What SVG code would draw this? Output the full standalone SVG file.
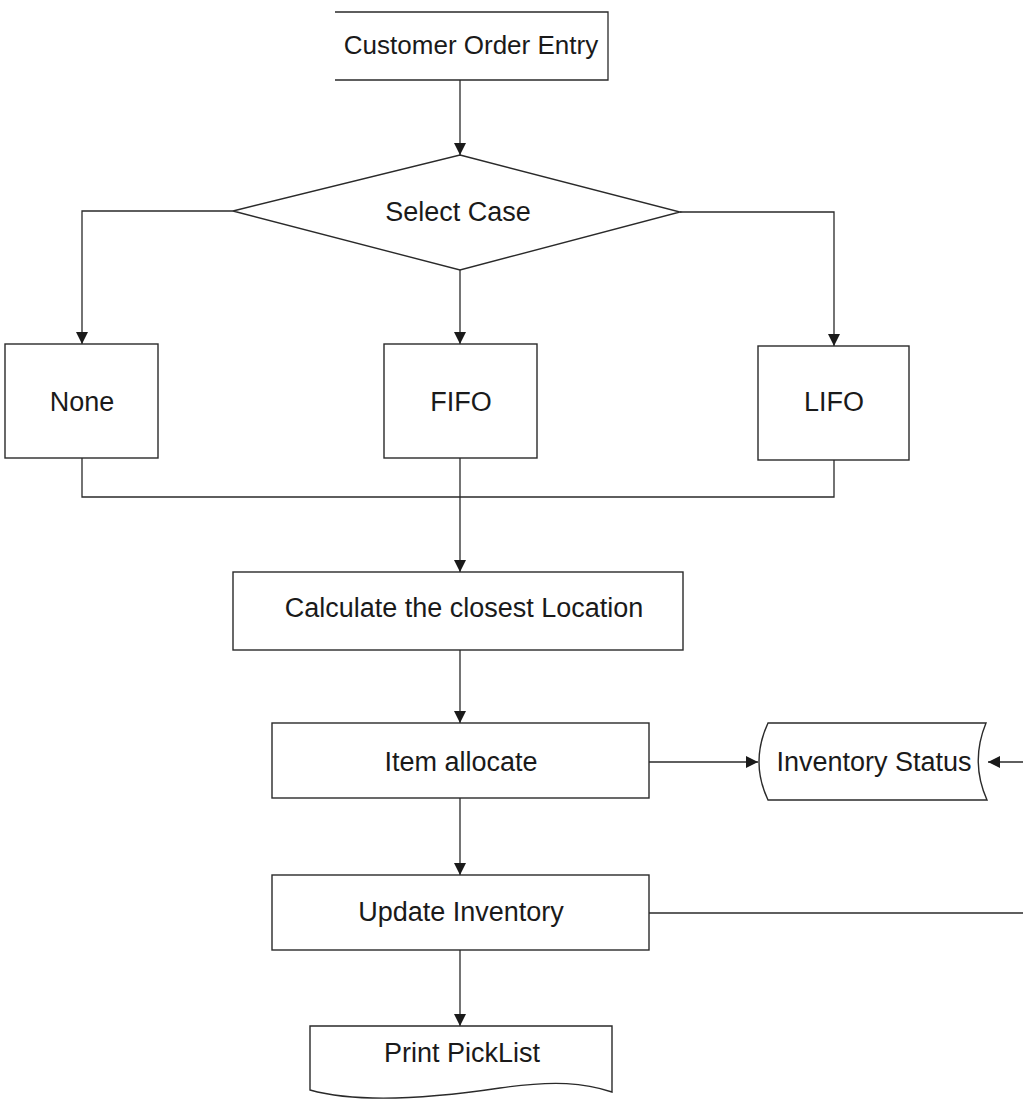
<svg xmlns="http://www.w3.org/2000/svg" width="1023" height="1099" viewBox="0 0 1023 1099">
  <style>
    .shape { fill: #ffffff; stroke: #2a2a2a; stroke-width: 1.4; }
    .edge { fill: none; stroke: #2a2a2a; stroke-width: 1.3; }
    .label { font-family: "Liberation Sans", Arial, sans-serif; font-size: 27px; fill: #1a1a1a; text-anchor: middle; }
    .title { font-size: 26px; }
  </style>
  <defs>
    <marker id="arrow" viewBox="0 0 12 13" refX="12" refY="6.5" markerWidth="12" markerHeight="13" markerUnits="userSpaceOnUse" orient="auto">
      <path d="M0,0.5 L12,6.5 L0,12.5 Z" fill="#1a1a1a"/>
    </marker>
  </defs>
  <rect width="1023" height="1099" fill="#ffffff"/>

  <g id="connectors">
    <!-- entry to decision -->
    <path class="edge" d="M460,80 V155" marker-end="url(#arrow)"/>
    <!-- decision branches -->
    <path class="edge" d="M233,211 H82 V344" marker-end="url(#arrow)"/>
    <path class="edge" d="M460,270 V344" marker-end="url(#arrow)"/>
    <path class="edge" d="M680,212 H834 V346" marker-end="url(#arrow)"/>
    <!-- merge of the three cases -->
    <path class="edge" d="M82,458 V497 H834 V460"/>
    <path class="edge" d="M460,458 V572" marker-end="url(#arrow)"/>
    <!-- main sequence -->
    <path class="edge" d="M460,650 V723" marker-end="url(#arrow)"/>
    <path class="edge" d="M649,762 H758" marker-end="url(#arrow)"/>
    <path class="edge" d="M1023,762 H988" marker-end="url(#arrow)"/>
    <path class="edge" d="M460,798 V875" marker-end="url(#arrow)"/>
    <path class="edge" d="M649,913 H1023"/>
    <path class="edge" d="M460,950 V1026" marker-end="url(#arrow)"/>
  </g>

  <g id="customer-order-entry">
    <path class="edge" d="M335,12 H608 V80 H335"/>
    <text class="label title" x="471" y="54">Customer Order Entry</text>
  </g>

  <g id="select-case">
    <path class="shape" d="M460,155 L680,212 L460,270 L233,211 Z"/>
    <text class="label" x="458" y="221">Select Case</text>
  </g>

  <g id="none">
    <rect class="shape" x="5" y="344" width="153" height="114"/>
    <text class="label" x="82" y="411">None</text>
  </g>

  <g id="fifo">
    <rect class="shape" x="384" y="344" width="153" height="114"/>
    <text class="label" x="461" y="411">FIFO</text>
  </g>

  <g id="lifo">
    <rect class="shape" x="758" y="346" width="151" height="114"/>
    <text class="label" x="834" y="411">LIFO</text>
  </g>

  <g id="calculate-location">
    <rect class="shape" x="233" y="572" width="450" height="78"/>
    <text class="label" x="464" y="617">Calculate the closest Location</text>
  </g>

  <g id="item-allocate">
    <rect class="shape" x="272" y="723" width="377" height="75"/>
    <text class="label" x="461" y="771">Item allocate</text>
  </g>

  <g id="inventory-status">
    <path class="shape" d="M768,723 H986 Q970,762 987,800 H768 Q750,762 768,723 Z"/>
    <text class="label" x="874" y="771">Inventory Status</text>
  </g>

  <g id="update-inventory">
    <rect class="shape" x="272" y="875" width="377" height="75"/>
    <text class="label" x="461" y="921">Update Inventory</text>
  </g>

  <g id="print-picklist">
    <path class="shape" d="M310,1026 H612 V1092 C585,1083 555,1080 500,1088 C440,1097 360,1104 310,1090 Z"/>
    <text class="label" x="462" y="1062">Print PickList</text>
  </g>
</svg>
